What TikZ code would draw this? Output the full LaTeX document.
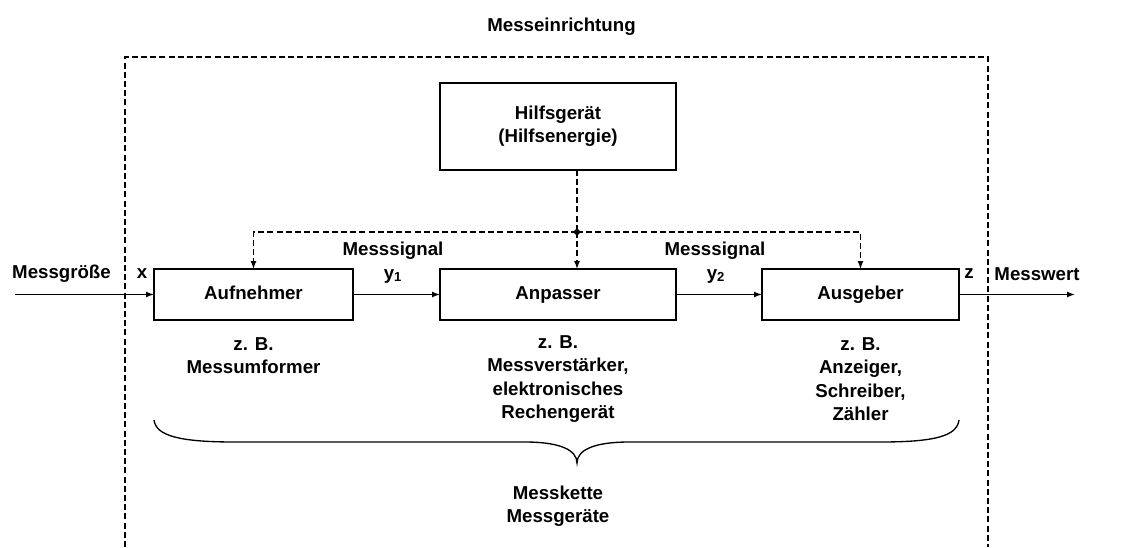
\documentclass[tikz,border=0pt]{standalone}
\usepackage{fontspec}
\setmainfont{Liberation Sans}
\usetikzlibrary{arrows.meta,positioning}

\tikzset{every picture/.style={line width=0.75pt}}
\tikzset{
  block/.style={draw, line width=1.5pt, inner sep=0pt, outer sep=0pt, align=center},
  rowbox/.style={block, minimum height=38.25pt, text height=10pt, text depth=3pt},
  label/.style={inner sep=0.75pt, align=center},
  sigline/.style={line width=1.1pt, -{Latex[length=6pt,width=4.5pt]}},
  dashline/.style={line width=1.1pt, dash pattern=on 4.5pt off 2.4pt},
  dasharrow/.style={dashline, -{Latex[length=6pt,width=4.5pt]}}
}

\begin{document}
\begin{tikzpicture}[x=0.75pt,y=0.75pt,yscale=-1,xscale=1,
  font=\bfseries\fontsize{14}{17.6}\selectfont]
                \useasboundingbox (0,0) rectangle (1124,547);

                %Shape: Dashed frame
                \draw [dashline] (125,547) -- (125,57) -- (988,57) -- (988,547) ;

                %Shape: Rectangle
                \node [block, minimum width=177pt, minimum height=65.25pt] (aux) at (558,126) {Hilfsgerät\\(Hilfsenergie)};
                %Shape: Rectangle
                \node [rowbox, minimum width=149.25pt] (auf) at (253.5,294.5) {Aufnehmer};
                %Shape: Rectangle
                \node [rowbox, minimum width=177pt] (anp) at (558,294.5) {Anpasser};
                %Shape: Rectangle
                \node [rowbox, minimum width=147.75pt] (aus) at (860.5,294.5) {Ausgeber};

                \coordinate (in) at (15,294.5);
                \coordinate (out) at (1075,294.5);
                \coordinate (dot) at (577,232);

                %Straight Lines
                \draw [sigline] (in) -- (auf.west) ;
                \draw [sigline] (auf.east) -- (anp.west) ;
                \draw [sigline] (anp.east) -- (aus.west) ;
                \draw [sigline] (aus.east) -- (out) ;

                %Dashed Lines
                \draw [dashline] (aux.south -| dot) -- (dot) ;
                \draw [dasharrow] (dot) -| (auf.north) ;
                \draw [dasharrow] (dot) -- (dot |- anp.north) ;
                \draw [dasharrow] (dot) -| (aus.north) ;
                \fill (dot) circle (2.3pt) ;

                %Curve Lines: brace
                \draw [line width=1pt] (154,420) .. controls (156,436) and (180,442) .. (235,442) -- (525,442) .. controls (560,442) and (577,450) .. (577,463) .. controls (577,450) and (594,442) .. (629,442) -- (880,442) .. controls (935,442) and (957,436) .. (959,420) ;

                % Text Node
                \node [label] (title) at (561.5,27) {Messeinrichtung};
                % Text Node
                \node [label] (mgr) at (61.5,274) {Messgröße};
                % Text Node
                \node [label] (xl) at (142,274) {x};
                % Text Node
                \node [label] (ms1) at (393,251) {Messsignal};
                % Text Node
                \node [label] (y1) at (393,276) {y\textsubscript{1}};
                % Text Node
                \node [label] (ms2) at (715,251) {Messsignal};
                % Text Node
                \node [label] (y2) at (716,276) {y\textsubscript{2}};
                % Text Node
                \node [label] (zl) at (969,274) {z};
                % Text Node
                \node [label] (mwt) at (1037,274) {Messwert};
                % Text Node
                \node [label] (aufex) at (253.5,355.5) {z. B.\\Messumformer};
                % Text Node
                \node [label] (anpex) at (558,379) {z. B.\\Messverstärker,\\elektronisches\\Rechengerät};
                % Text Node
                \node [label] (ausex) at (860.5,379) {z. B.\\Anzeiger,\\Schreiber,\\Zähler};
                % Text Node
                \node [label] (chain) at (558,506) {Messkette\\Messgeräte};
\end{tikzpicture}
\end{document}
